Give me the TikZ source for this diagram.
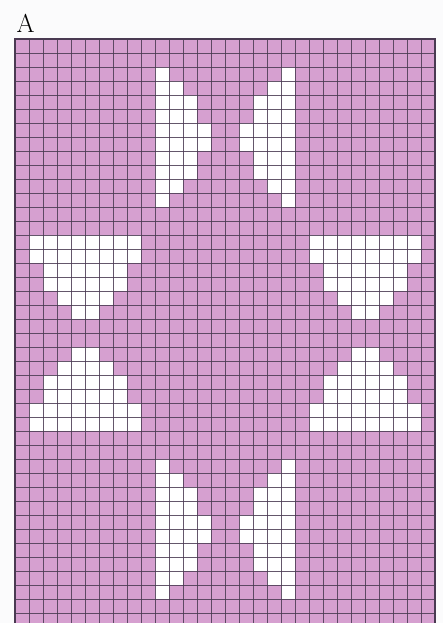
\documentclass[tikz,border=0pt]{standalone}
\usetikzlibrary{positioning}
\definecolor{orchid}{HTML}{D6A0D0}
\definecolor{gridink}{HTML}{4A3A52}
\definecolor{paper}{HTML}{FBFBFC}
\tikzset{
  ground/.style={fill=orchid, draw=none},
  motif/.style={fill=white, draw=none},
  gridline/.style={draw=gridink, line width=.75bp, opacity=.85},
  frame/.style={draw=gridink, line width=1.1bp},
  chartlabel/.style={font=\fontsize{26}{30}\selectfont, anchor=base west, inner sep=0pt}
}
\begin{document}
\begin{tikzpicture}[x=14bp,y=-14bp]
  \useasboundingbox[fill=paper] (-1.0714,-2.7857) rectangle (30.5714,41.7143);
  \clip (-1.0714,-2.7857) rectangle (30.5714,41.7143);
  \node[chartlabel] (title) at (0.1,-0.5) {A};

  \fill[ground] (0,0) rectangle (30,42);
  % upper and lower motifs, one column at a time
  \foreach \c/\ra/\rb in {10/2/11,11/3/10,12/4/9,13/6/7,19/2/11,18/3/10,17/4/9,16/6/7,
      10/30/39,11/31/38,12/32/37,13/34/35,19/30/39,18/31/38,17/32/37,16/34/35}
    \fill[motif] (\c,\ra) rectangle (\c+1,\rb+1);
  % side motifs, one row at a time
  \foreach \r/\ca/\cb in {14/1/8,15/1/8,16/2/7,17/2/7,18/3/6,19/4/5,
      22/4/5,23/3/6,24/2/7,25/2/7,26/1/8,27/1/8,
      14/21/28,15/21/28,16/22/27,17/22/27,18/23/26,19/24/25,
      22/24/25,23/23/26,24/22/27,25/22/27,26/21/28,27/21/28}
    \fill[motif] (\ca,\r) rectangle (\cb+1,\r+1);

  \foreach \i in {1,...,29} \draw[gridline] (\i,0) -- (\i,42);
  \foreach \j in {1,...,41} \draw[gridline] (0,\j) -- (30,\j);
  \draw[frame] (0,0) rectangle (30,42);
\end{tikzpicture}
\end{document}
